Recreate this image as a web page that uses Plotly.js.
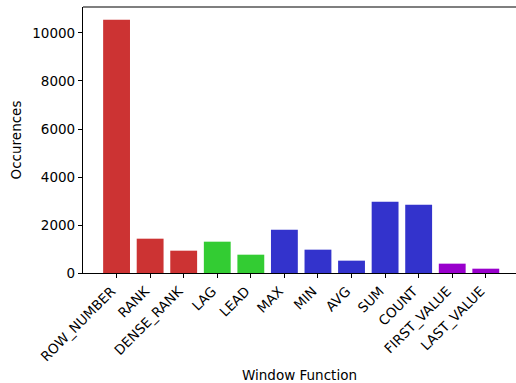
<!DOCTYPE html>
<html>
<head>
<meta charset="utf-8">
<script src="https://cdn.plot.ly/plotly-3.0.1.min.js"></script>
<style>html,body{margin:0;padding:0;background:#fff;}#chart{width:516px;height:383px;}</style>
</head>
<body>
<div id="chart"></div>
<script>
const categories = ["ROW_NUMBER","RANK","DENSE_RANK","LAG","LEAD","MAX","MIN","AVG","SUM","COUNT","FIRST_VALUE","LAST_VALUE"];
const occurrences = [10555, 1430, 930, 1305, 763, 1805, 972, 514, 2972, 2847, 389, 180];
const barColors = ["#cc3333","#cc3333","#cc3333","#33cc33","#33cc33","#3333cc","#3333cc","#3333cc","#3333cc","#3333cc","#9900cc","#9900cc"];
const yTicks = [0, 2000, 4000, 6000, 8000, 10000];

const font = {family: "DejaVu Sans", size: 13.5, color: "#000"};

Plotly.newPlot("chart", [{
  type: "bar",
  x: categories.map((c, i) => i),
  y: occurrences,
  marker: {color: barColors, line: {width: 0}},
  width: 0.8,
  hoverinfo: "x+y"
}], {
  width: 516, height: 383,
  margin: {l: 83, r: 0, t: 7, b: 110},
  paper_bgcolor: "#fff", plot_bgcolor: "#fff",
  font: font,
  showlegend: false,
  shapes: [{type: "line", xref: "paper", yref: "paper", x0: 0, x1: 1, y0: 1, y1: 1,
            line: {color: "#000", width: 1.1}}],
  xaxis: {
    range: [-1, 11.9],
    tickmode: "array",
    tickvals: categories.map((c, i) => i),
    ticktext: categories,
    tickangle: -45,
    ticklabelshift: -5,
    ticks: "outside", ticklen: 4, tickwidth: 1, tickcolor: "#000",
    showline: true, linecolor: "#000", linewidth: 1.1,
    showgrid: false, zeroline: false,
    tickfont: font,
    title: {text: "Window Function", font: font, standoff: 8}
  },
  yaxis: {
    range: [0, 11083],
    tickmode: "array",
    tickvals: yTicks,
    ticktext: yTicks.map(String),
    ticks: "outside", ticklen: 4, tickwidth: 1, tickcolor: "#000",
    showline: true, linecolor: "#000", linewidth: 1.1,
    showgrid: false, zeroline: false,
    tickfont: font,
    title: {text: "Occurences", font: font, standoff: 7}
  }
}, {displayModeBar: false, staticPlot: true});
</script>
</body>
</html>
